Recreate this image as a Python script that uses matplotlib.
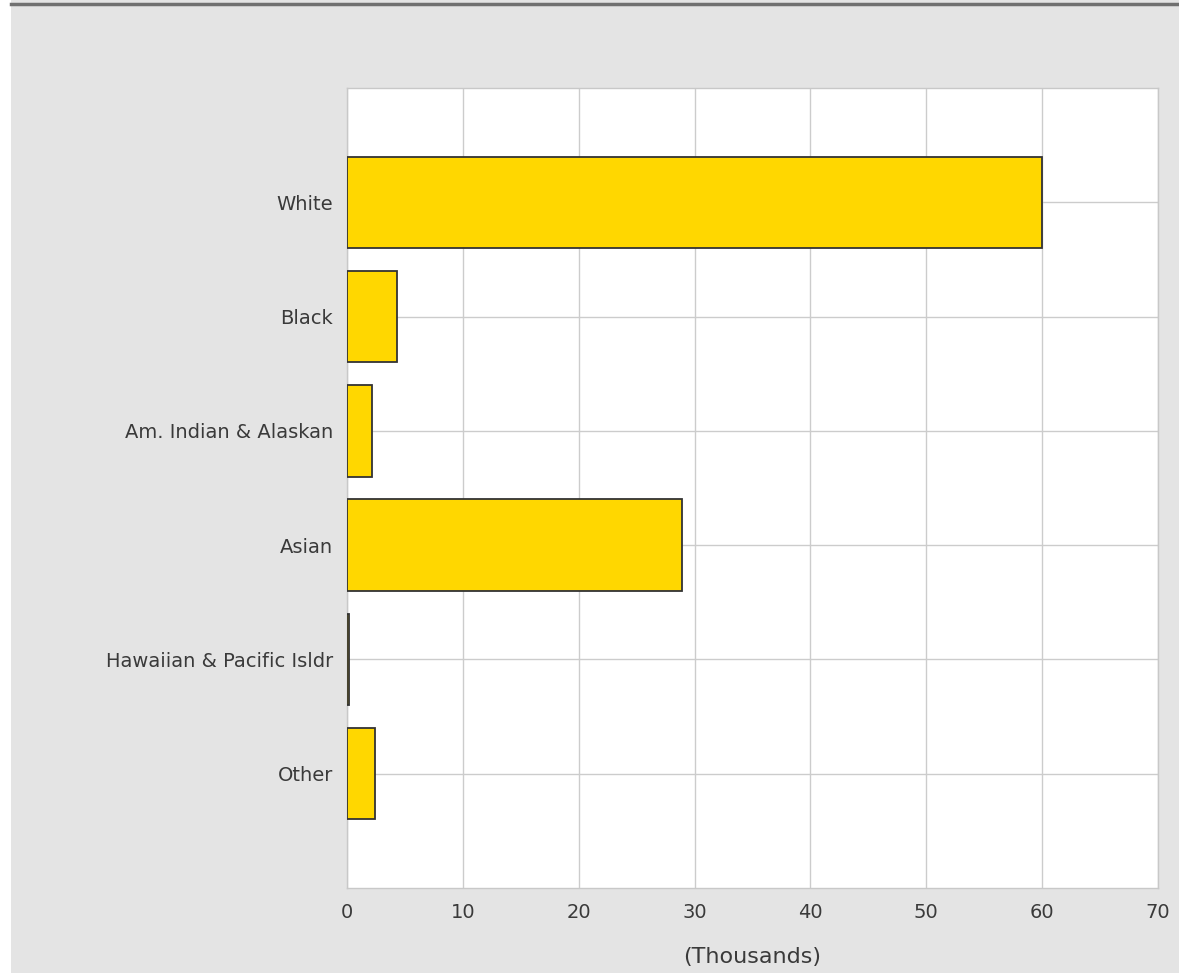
import matplotlib.pyplot as plt
from matplotlib.patches import Rectangle
from matplotlib.lines import Line2D

# data (thousands)
categories = ['White', 'Black', 'Am. Indian & Alaskan', 'Asian',
              'Hawaiian & Pacific Isldr', 'Other']
values = [60.0, 4.3, 2.15, 28.9, 0.2, 2.4]
xticks = [0, 10, 20, 30, 40, 50, 60, 70]

W, H = 1179, 973
fig = plt.figure(figsize=(W / 100, H / 100), dpi=100)
fig.patch.set_facecolor('#e4e4e4')

# white strip on the left and dark line on top
fig.add_artist(Rectangle((0, 0), 11 / W, 1, transform=fig.transFigure,
                         facecolor='white', edgecolor='none'))
fig.add_artist(Line2D([11 / W, 1], [1 - 4 / H, 1 - 4 / H], transform=fig.transFigure,
                      color='#707070', linewidth=2.5))

ax = fig.add_axes([347 / W, 1 - 888 / H, (1158 - 347) / W, (888 - 88) / H])
ax.set_facecolor('white')

y = list(range(len(categories)))
ax.barh(y, values, height=0.8, color='#ffd700', edgecolor='#333333',
        linewidth=1.3, zorder=3)

ax.set_xlim(0, 70)
ax.set_ylim(len(categories), -1)
ax.set_xticks(xticks)
ax.set_yticks(y)
ax.set_yticklabels(categories)
ax.grid(True, color='#cccccc', linewidth=1, zorder=0)
ax.set_axisbelow(True)

for s in ax.spines.values():
    s.set_color('#c8c8c8')
    s.set_linewidth(1)

ax.tick_params(axis='both', length=0, labelsize=14, colors='#3a3a3a')
ax.tick_params(axis='y', pad=10)
ax.tick_params(axis='x', pad=11)
ax.set_xlabel('(Thousands)', fontsize=16, color='#3a3a3a', labelpad=18)

fig.savefig('out.png', dpi=100, facecolor=fig.get_facecolor())
